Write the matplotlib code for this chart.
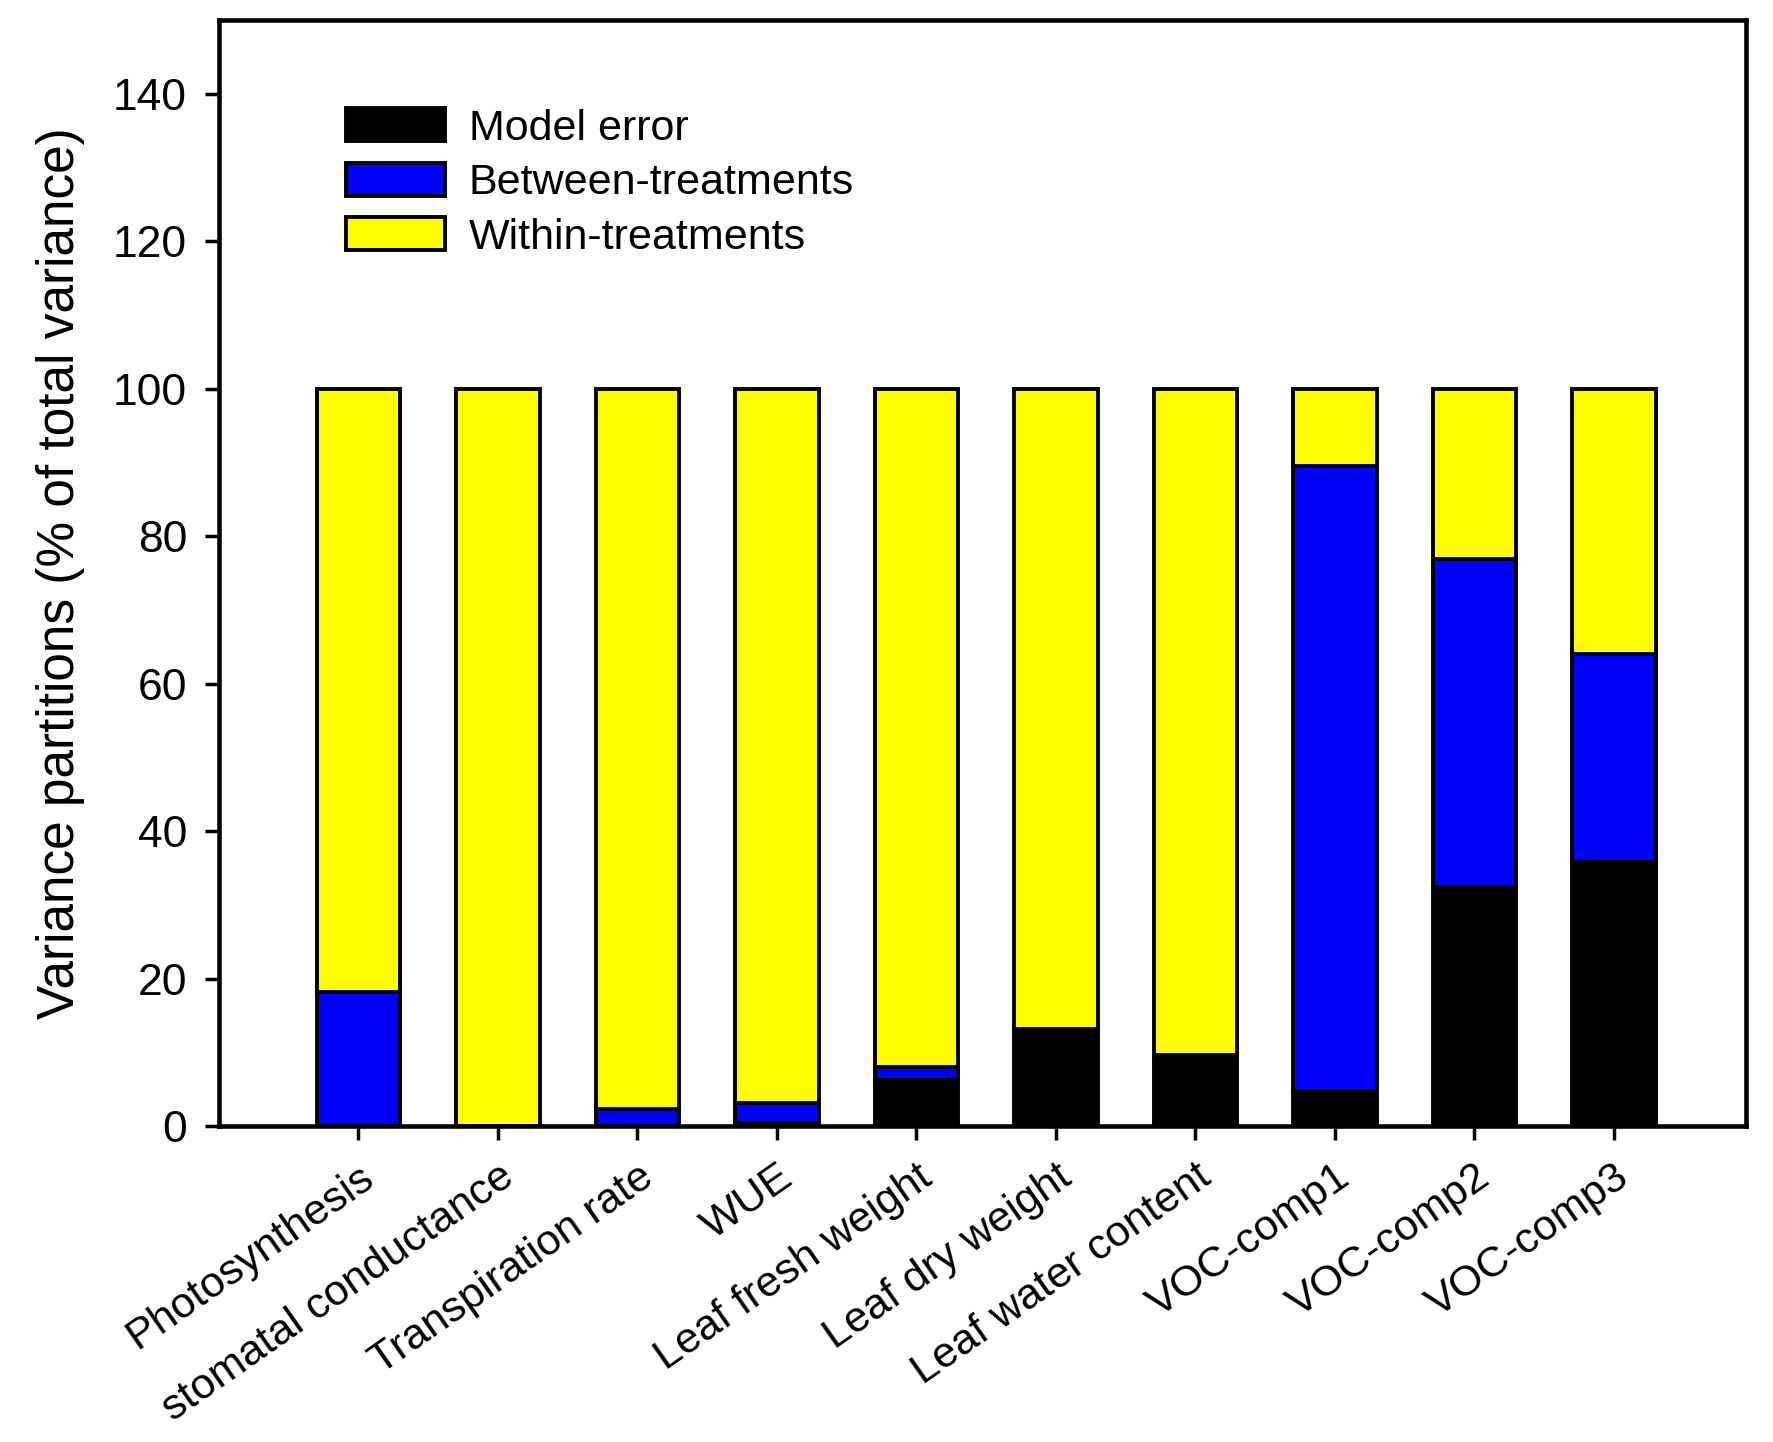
import numpy as np
import matplotlib.pyplot as plt

plt.rcParams['font.family'] = ['Liberation Sans', 'DejaVu Sans']

# Данные (% от общей дисперсии)
categories = ['Photosynthesis', 'stomatal conductance', 'Transpiration rate', 'WUE',
              'Leaf fresh weight', 'Leaf dry weight', 'Leaf water content',
              'VOC-comp1', 'VOC-comp2', 'VOC-comp3']
model_error = [0.0, 0.0, 0.0, 0.5, 6.2, 13.2, 9.7, 4.8, 32.5, 35.8]
between = [18.2, 0.0, 2.3, 2.6, 1.8, 0.0, 0.0, 84.7, 44.4, 28.2]
within = [100 - m - b for m, b in zip(model_error, between)]

x = np.arange(1, len(categories) + 1)
width = 0.6

fig = plt.figure(figsize=(17.73, 14.42), dpi=100)
ax = fig.add_axes([0.1235, 0.219, 0.8615, 0.767])

ec = 'black'
lw = 2.8
ax.bar(x, model_error, width, color='black', edgecolor=ec, linewidth=lw, label='Model error')
ax.bar(x, between, width, bottom=model_error, color='#0000ff', edgecolor=ec, linewidth=lw,
       label='Between-treatments')
bottom2 = [m + b for m, b in zip(model_error, between)]
ax.bar(x, within, width, bottom=bottom2, color='#ffff00', edgecolor=ec, linewidth=lw,
       label='Within-treatments')

ax.set_xlim(0, 10.95)
ax.set_ylim(0, 150)
ax.set_yticks(range(0, 141, 20))
ax.set_xticks(x)
ax.set_xticklabels(categories, rotation=35, ha='right', rotation_mode='anchor', fontsize=31)
ax.tick_params(axis='both', direction='out', length=10, width=2.5, labelsize=32)
ax.tick_params(axis='x', pad=12, labelsize=31)
ax.tick_params(axis='y', pad=13)
for s in ax.spines.values():
    s.set_linewidth(3.3)

ax.set_ylabel('Variance partitions (% of total variance)', fontsize=37, labelpad=20)

ax.legend(loc='upper left', bbox_to_anchor=(0.072, 0.936), frameon=False, fontsize=31,
          handlelength=2.3, handleheight=0.8, labelspacing=0.33, handletextpad=0.55,
          borderaxespad=0)

fig.savefig('out.png', dpi=100)
